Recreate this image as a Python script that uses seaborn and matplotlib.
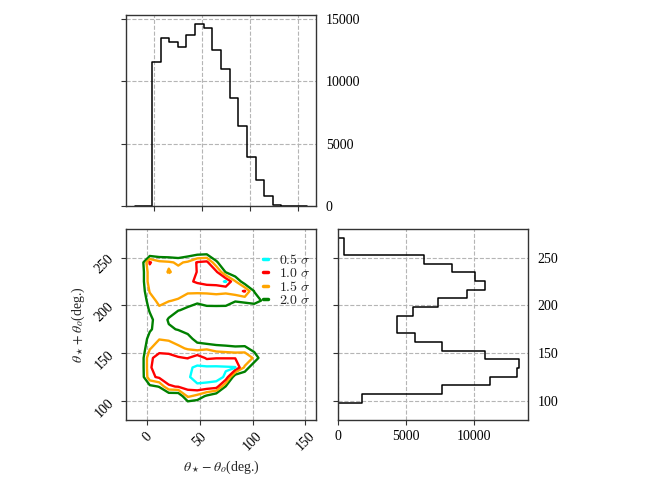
import numpy as np
import pandas as pd
import seaborn as sns
import matplotlib
matplotlib.use('Agg')
import matplotlib.pyplot as plt
from matplotlib.lines import Line2D
from matplotlib.font_manager import FontProperties

# marginal of theta_star - theta_o (20 bins, 9 deg wide)
diff_edges = list(np.linspace(-20, 160, 21))
diff_counts = [0, 0, 11520, 13480, 13190, 12780, 13720, 14600, 14260, 12540,
               10960, 8680, 6400, 3970, 2090, 830, 80, 0, 0, 0]

# marginal of theta_star + theta_o (22 bins between 80 and 280)
sum_edges = list(np.linspace(80, 280, 23))
sum_counts = [0, 0, 1790, 7690, 11230, 13220, 13340, 10840, 7690, 5700, 4370,
              4370, 5530, 7370, 9530, 10810, 10100, 8430, 6310, 420, 420, 0]

# 2d density on a 20x20 grid (rows: theta sum, cols: theta diff)
grid_y = np.arange(85, 280, 10)
density = [
    [0]*20,
    [0]*20,
    [0, 0, 0, 0, 0, 0, 2.2, 1.7, 0.8, 0, 0, 0, 0, 0, 0, 0, 0, 0, 0, 0],
    [0, 0, 0.7, 1.05, 2.9, 3.05, 3.4, 3.85, 3.7, 3.5, 0.9, 0, 0, 0, 0, 0, 0, 0, 0, 0],
    [0, 0, 2.7, 3.2, 3.4, 3.5, 3.9, 4.3, 4.4, 4.4, 3.85, 0, 0, 0, 0, 0, 0, 0, 0, 0],
    [0, 0, 2.85, 3.7, 3.75, 3.8, 3.9, 4.1, 4.15, 4.15, 4.1, 4.05, 1.8, 0, 0, 0, 0, 0, 0, 0],
    [0, 0, 2.85, 3.3, 3.3, 3.1, 2.95, 3.6, 2.85, 2.95, 2.95, 2.95, 2.95, 1.8, 0, 0, 0, 0, 0, 0],
    [0, 0, 1.9, 2.7, 2.6, 2.2, 1.9, 1.6, 1.9, 1.54, 1.4, 1.25, 1.3, 0.5, 0, 0, 0, 0, 0, 0],
    [0, 0, 1.4, 1.95, 1.85, 1.6, 1.4, 0.6, 0, 0, 0, 0, 0, 0, 0, 0, 0, 0, 0, 0],
    [0, 0, 0.85, 1.5, 1.12, 0.95, 0.6, 0, 0, 0, 0, 0, 0, 0, 0, 0, 0, 0, 0, 0],
    [0, 0, 0.7, 1.6, 0.9, 0, 0, 0, 0, 0, 0, 0, 0, 0, 0, 0, 0, 0, 0, 0],
    [0, 0, 1.1, 1.75, 1.4, 1.05, 0.8, 0.3, 0.3, 0.3, 0.3, 0, 0, 0, 0, 0, 0, 0, 0, 0],
    [0, 0, 1.5, 2.3, 2.05, 1.9, 1.4, 1.3, 1.85, 1.9, 1.85, 1.1, 1.27, 1.5, 0.8, 0, 0, 0, 0, 0],
    [0, 0, 2.1, 2.5, 2.4, 2.4, 2.2, 2.2, 2.05, 2.05, 2.05, 2.6, 3.1, 0.95, 0, 0, 0, 0, 0, 0],
    [0, 0, 2.6, 2.6, 2.5, 2.5, 2.8, 3.15, 3.5, 3.6, 4.1, 2.1, 0.26, 0, 0, 0, 0, 0, 0, 0],
    [0, 0, 2.6, 2.5, 1.92, 2.3, 2.7, 3.02, 3.4, 3.2, 0.9, 0, 0, 0, 0, 0, 0, 0, 0, 0],
    [0, 0, 3.1, 2.3, 2.15, 1.85, 2.15, 3.1, 3.3, 1.2, 0, 0, 0, 0, 0, 0, 0, 0, 0, 0],
    [0, 0, 0, 0, 0, 0, 0.3, 0.5, 0.6, 0, 0, 0, 0, 0, 0, 0, 0, 0, 0, 0],
    [0]*20,
    [0]*20,
]

# contour levels (2.0, 1.5, 1.0, 0.5 sigma)
sigma_levels = [1, 2, 3, 4]
sigma_names = ['2.0', '1.5', '1.0', '0.5']
sigma_colors = ['green', 'orange', 'red', 'cyan']

sns.set_style('ticks')
plt.rcParams['font.family'] = ['Liberation Serif', 'DejaVu Serif']
plt.rcParams['mathtext.fontset'] = 'stix'
plt.rcParams['font.size'] = 10
plt.rcParams['axes.edgecolor'] = '#333333'
plt.rcParams['axes.linewidth'] = 1.0
plt.rcParams['xtick.color'] = '#333333'
plt.rcParams['ytick.color'] = '#333333'
plt.rcParams['xtick.labelcolor'] = 'black'
plt.rcParams['ytick.labelcolor'] = 'black'

fig = plt.figure(figsize=(6.54, 4.91), dpi=100)
ax_top = fig.add_axes([0.1927, 0.5804, 0.2905, 0.389])
ax_main = fig.add_axes([0.1927, 0.1446, 0.2905, 0.389])
ax_right = fig.add_axes([0.5168, 0.1446, 0.2905, 0.389])

grid_kw = dict(color='#b5b5b5', linestyle='--', linewidth=0.8)

# top marginal
diff_centers = (np.array(diff_edges[:-1]) + np.array(diff_edges[1:])) / 2
top_df = pd.DataFrame({'diff': diff_centers, 'count': diff_counts})
sns.histplot(data=top_df, x='diff', weights='count', bins=diff_edges, element='step',
             fill=False, color='black', linewidth=1.1, ax=ax_top)
ax_top.set_ylim(bottom=0)
ax_top.set_xticks([0, 50, 100, 150])
ax_top.set_yticks([0, 5000, 10000, 15000])
ax_top.tick_params(axis='x', labelbottom=False)
ax_top.tick_params(axis='y', left=True, right=False, labelleft=False, labelright=True)
ax_top.set_xlabel('')
ax_top.set_ylabel('')
ax_top.grid(True, **grid_kw)

# right marginal
sum_centers = (np.array(sum_edges[:-1]) + np.array(sum_edges[1:])) / 2
right_df = pd.DataFrame({'sum': sum_centers, 'count': sum_counts})
sns.histplot(data=right_df, y='sum', weights='count', bins=sum_edges, element='step',
             fill=False, color='black', linewidth=1.1, ax=ax_right)
ax_right.set_xlim(left=0)
ax_right.set_ylim(80, 280)
ax_right.set_xticks([0, 5000, 10000])
ax_right.set_yticks([100, 150, 200, 250])
ax_right.tick_params(axis='y', left=True, right=False, labelleft=False, labelright=True)
ax_right.set_xlabel('')
ax_right.set_ylabel('')
ax_right.grid(True, **grid_kw)

# joint contours
cs = ax_main.contour(diff_centers, grid_y, np.array(density), levels=sigma_levels,
                     colors=sigma_colors, linewidths=1.7)
ax_main.set_xlim(-20, 160)
ax_main.set_ylim(80, 280)
ax_main.set_xticks([0, 50, 100, 150])
ax_main.set_yticks([100, 150, 200, 250])
ax_main.tick_params(axis='x', labelrotation=45)
ax_main.tick_params(axis='y', labelrotation=45)
ax_main.set_xlabel(r'$\theta_\star - \theta_o$(deg.)', fontsize=10)
ax_main.set_ylabel(r'$\theta_\star + \theta_o$(deg.)', fontsize=10)
ax_main.grid(True, **grid_kw)

handles = [Line2D([], [], color=c, lw=2.5) for c in sigma_colors[::-1]]
labels = [r'$%s\ \sigma$' % s for s in sigma_names[::-1]]
ax_main.legend(handles, labels, loc='upper right', bbox_to_anchor=(1.04, 0.94),
               frameon=False, handlelength=0.35, handletextpad=0.8, labelspacing=0.0,
               prop=FontProperties(size=10, math_fontfamily='cm'))

for ax in (ax_top, ax_main, ax_right):
    for sp in ax.spines.values():
        sp.set_visible(True)

fig.savefig('out.png', dpi=100)
